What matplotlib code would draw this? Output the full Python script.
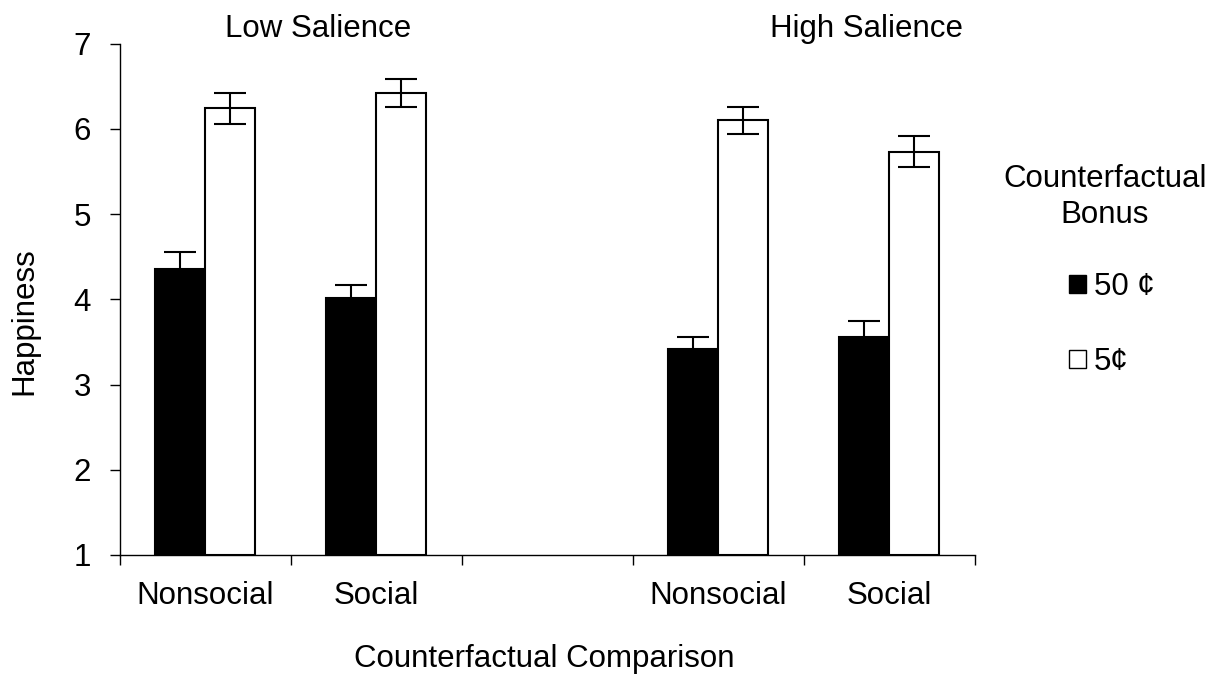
import matplotlib
matplotlib.use("Agg")
import matplotlib.pyplot as plt
from matplotlib.patches import Patch
import numpy as np

plt.rcParams['font.family'] = ['Liberation Sans', 'DejaVu Sans']

categories = ["Nonsocial", "Social", "", "Nonsocial", "Social"]
series_names = ["50 \u00a2", "5\u00a2"]
vals_50 = [4.36, 4.02, np.nan, 3.42, 3.56]
err_50 = [0.20, 0.15, np.nan, 0.14, 0.18]
vals_5 = [6.24, 6.42, np.nan, 6.10, 5.73]
err_5 = [0.18, 0.16, np.nan, 0.16, 0.18]
group_titles = ["Low Salience", "High Salience"]
legend_title = ["Counterfactual", "Bonus"]
yticks = [1, 2, 3, 4, 5, 6, 7]

W, H = 1219, 675
FS = 22.5
fig = plt.figure(figsize=(W/100, H/100), dpi=100)
ax = fig.add_axes([119.5/W, 1-555/H, (974.5-119.5)/W, (555-43.5)/H])

def fx(px):
    return px / W

def fy(py):
    return 1 - py / H

x = np.arange(len(categories))
w = 0.292
base = 1
ekw = dict(ecolor='black', elinewidth=1.5, capsize=11.5, capthick=1.5)
ax.bar(x - w/2, np.array(vals_50) - base, w, bottom=base, color='black',
       edgecolor='black', linewidth=1.5, yerr=err_50, error_kw=ekw, zorder=2)
ax.bar(x + w/2, np.array(vals_5) - base, w, bottom=base, color='white',
       edgecolor='black', linewidth=1.5, yerr=err_5, error_kw=ekw, zorder=2)

ax.set_xlim(-0.5, len(categories) - 0.5)
ax.set_ylim(1, 7)
ax.set_yticks(yticks)
ax.tick_params(axis='y', labelsize=FS, length=7.5, width=1, direction='out', pad=13)
ax.set_xticks(np.arange(len(categories) + 1) - 0.5)
ax.set_xticklabels([])
ax.tick_params(axis='x', which='major', length=7, width=1, direction='out')
ax.set_xticks(x, minor=True)
ax.set_xticklabels(categories, minor=True, fontsize=FS)
ax.tick_params(axis='x', which='minor', length=0, pad=19)
for s in ['top', 'right']:
    ax.spines[s].set_visible(False)
for s in ['left', 'bottom']:
    ax.spines[s].set_linewidth(1)

fig.text(fx(32), fy(321), "Happiness", fontsize=FS, rotation=90,
         rotation_mode='anchor', ha='center', va='baseline')
fig.text(fx(544), fy(667), "Counterfactual Comparison", fontsize=FS,
         ha='center', va='baseline')

fig.text(fx(318), fy(37), group_titles[0], fontsize=FS, ha='center', va='baseline')
fig.text(fx(867), fy(37), group_titles[1], fontsize=FS, ha='center', va='baseline')

fig.text(fx(1105), fy(187), legend_title[0], fontsize=FS, ha='center', va='baseline')
fig.text(fx(1105), fy(223), legend_title[1], fontsize=FS, ha='center', va='baseline')

handles = [Patch(facecolor='black', edgecolor='black', linewidth=1),
           Patch(facecolor='white', edgecolor='black', linewidth=1)]
leg = fig.legend(handles, series_names, loc='upper left',
                 bbox_to_anchor=(fx(1069), fy(272)), frameon=False,
                 fontsize=FS, handlelength=0.54, handleheight=0.52,
                 handletextpad=0.26, labelspacing=1.43,
                 borderaxespad=0, borderpad=0)

fig.savefig("out.png", dpi=100)
